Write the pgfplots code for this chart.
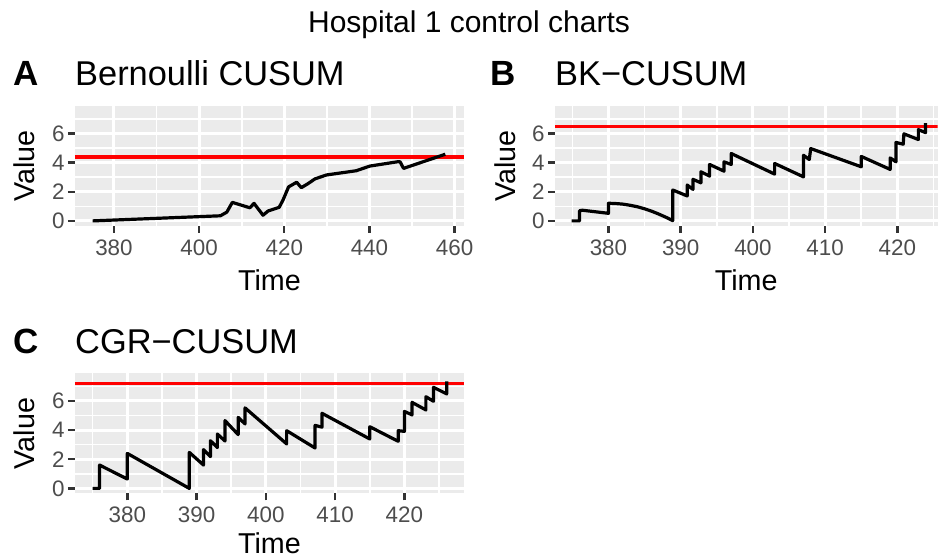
\documentclass[border=0pt]{standalone}
\usepackage{fontspec}
\setmainfont{Liberation Sans}
\usepackage{pgfplots}
\pgfplotsset{compat=1.18}
\definecolor{panelbg}{HTML}{EBEBEB}
\definecolor{ticklab}{HTML}{4D4D4D}
\definecolor{tickcol}{HTML}{333333}
\pgfplotsset{
  ggpanel/.style={
    scale only axis, height=120pt,
    axis background/.style={fill=panelbg},
    axis line style={draw=none},
    grid=both,
    major grid style={white, line width=3pt},
    minor grid style={white, line width=1.6pt},
    tick align=outside,
    major tick length=7pt,
    minor tick length=0pt,
    tick pos=left,
    tick style={tickcol, line width=2.4pt},
    ymin=-0.35, ymax=7.88,
    ytick={0,2,4,6}, minor ytick={1,3,5,7},
    tick label style={font=\fontsize{22.4}{24}\selectfont, text=ticklab},
    xticklabel style={yshift=-3pt},
    /pgf/number format/assume math mode=true,
    every axis x label/.style={at={([yshift=-65pt]axis description cs:0.5,0)}, anchor=base, inner sep=0pt, font=\fontsize{28.7}{30}\selectfont},
    every axis y label/.style={at={([xshift=-40pt]axis description cs:0,0.5)}, rotate=90, anchor=base, inner sep=0pt, font=\fontsize{28.7}{30}\selectfont},
    every axis title/.style={at={([yshift=20pt]axis description cs:0,1)}, anchor=base west, inner sep=0pt, font=\fontsize{34.4}{36}\selectfont},
    xlabel=Time, ylabel=Value,
  },
  cus/.style={black, line width=3.2pt, line join=round},
  thr/.style={red, line width=3.2pt},
}
\begin{document}
\begin{tikzpicture}
\useasboundingbox (0,0) rectangle (938pt,560pt);

% Panel A
\begin{axis}[ggpanel, at={(75pt,334pt)}, anchor=south west, width=389pt,
  xmin=370.85, xmax=462.2, xtick={380,400,420,440,460}, minor xtick={390,410,430,450},
  title={Bernoulli CUSUM}]
\addplot[thr] coordinates {(370.85,4.38) (462.2,4.38)};
\addplot[cus] coordinates {
(375,0) (405,0.35) (406.5,0.6) (407.8,1.27) (411.9,0.9) (412.9,1.2) (415,0.39)
(416.2,0.68) (418.8,0.93) (419.7,1.43) (421,2.33) (422.9,2.65) (424,2.28)
(425.6,2.56) (427.2,2.88) (429.9,3.15) (436.9,3.44) (440.1,3.76) (446.7,4.06)
(447.2,4.05) (448,3.6) (457.8,4.57)};
\end{axis}

% Panel B
\begin{axis}[ggpanel, at={(555pt,334pt)}, anchor=south west, width=382.5pt,
  xmin=372.6, xmax=425.55, xtick={380,390,400,410,420}, minor xtick={375,385,395,405,415,425},
  title={BK−CUSUM}]
\addplot[thr] coordinates {(372.6,6.48) (425.55,6.48)};
\addplot[cus] coordinates {
(374.9,0) (376,0) (376,0.7) (376.4,0.73) (380,0.52) (380,1.21)
(381,1.19) (382,1.15) (383,1.07) (384,0.97) (385,0.83) (386,0.66) (387,0.46)
(388,0.24) (388.9,0.02) (388.9,2.12) (390.9,1.71) (390.9,2.46) (391.7,2.16)
(391.7,2.85) (392.8,2.61) (392.8,3.37) (394,3.07) (394,3.87) (396,3.41)
(396,4.05) (397,3.87) (397,4.62) (403,3.21) (403,3.94) (407,3.02) (407,4.5)
(407.8,4.21) (408,4.96) (415,3.71) (415,4.42) (419,3.53) (419,4.32)
(419.8,4.05) (419.8,5.38) (420.8,5.26) (420.9,5.97) (422.9,5.58) (422.9,6.26)
(423.9,6.05) (423.9,6.71)};
\end{axis}

% Panel C
\begin{axis}[ggpanel, at={(75pt,66.5pt)}, anchor=south west, width=389pt,
  xmin=372.45, xmax=428.6, xtick={380,390,400,410,420}, minor xtick={375,385,395,405,415,425},
  title={CGR−CUSUM},
  every axis x label/.style={at={([yshift=-60pt]axis description cs:0.5,0)}, anchor=base, inner sep=0pt, font=\fontsize{28.7}{30}\selectfont}]
\addplot[thr] coordinates {(372.45,7.17) (428.6,7.17)};
\addplot[cus] coordinates {
(375,0) (376,0) (376,1.6) (380,0.64) (380,2.4) (388.95,0) (388.95,2.47)
(391,1.6) (391,2.66) (392,2.18) (392,3.27) (393,2.8) (393,3.73) (394.1,3.25)
(394.1,4.65) (396,3.69) (396,4.87) (397,4.42) (397,5.52) (403,3.05) (403,3.96)
(407.1,2.77) (407.1,4.32) (408.1,4.2) (408.1,5.15) (415,3.39) (415,4.23)
(419.1,3.23) (419.1,3.96) (420,3.91) (420,5.28) (421.1,5.04) (421.1,5.9)
(423.1,5.38) (423.1,6.29) (424.2,5.97) (424.2,6.93) (426.1,6.48) (426.1,7.34)};
\end{axis}

\node[anchor=base, inner sep=0pt, font=\fontsize{30}{32}\selectfont] at (469pt,527pt) {Hospital 1 control charts};
\node[anchor=base west, inner sep=0pt, font=\bfseries\fontsize{35}{36}\selectfont] at (13pt,474pt) {A};
\node[anchor=base west, inner sep=0pt, font=\bfseries\fontsize{35}{36}\selectfont] at (490pt,474pt) {B};
\node[anchor=base west, inner sep=0pt, font=\bfseries\fontsize{35}{36}\selectfont] at (13pt,206.5pt) {C};
\end{tikzpicture}
\end{document}
